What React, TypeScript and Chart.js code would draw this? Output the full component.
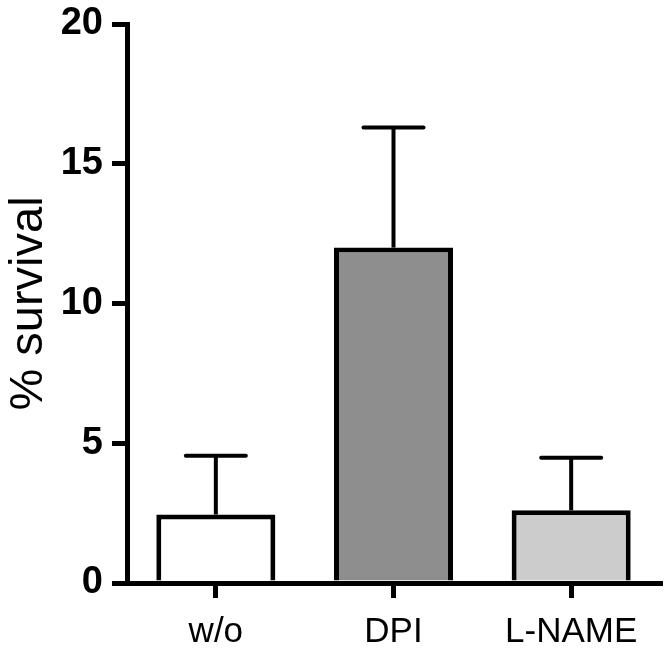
import React, { useEffect, useRef } from "react";
import { Chart, registerables } from "chart.js";

Chart.register(...registerables);

const categories = ["w/o", "DPI", "L-NAME"];
const means = [2.45, 12.0, 2.6];
const errors = [2.1, 4.3, 1.88];
const barColors = ["#ffffff", "#8e8e8e", "#cccccc"];
const yTicks = [0, 5, 10, 15, 20];
const yTitle = "% survival";

const FONT = "'Liberation Sans', Arial, Helvetica, sans-serif";

const errorBarPlugin = {
  id: "errorBars",
  afterDatasetsDraw(chart: any) {
    const meta = chart.getDatasetMeta(0);
    const yScale = chart.scales.y;
    const ctx = chart.ctx;
    ctx.save();
    ctx.strokeStyle = "#000";
    ctx.lineWidth = 4;
    meta.data.forEach((bar: any, i: number) => {
      const top = yScale.getPixelForValue(means[i] + errors[i]);
      const x = bar.x;
      ctx.lineCap = "butt";
      ctx.beginPath();
      ctx.moveTo(x, bar.y);
      ctx.lineTo(x, top);
      ctx.stroke();
      ctx.lineCap = "round";
      ctx.beginPath();
      ctx.moveTo(x - 30, top);
      ctx.lineTo(x + 30, top);
      ctx.stroke();
    });
    ctx.restore();
  },
};

export default function App() {
  const ref = useRef<HTMLCanvasElement | null>(null);
  useEffect(() => {
    if (!ref.current) return;
    const chart = new Chart(ref.current, {
      type: "bar",
      data: {
        labels: categories,
        datasets: [
          {
            data: means,
            backgroundColor: barColors,
            borderColor: "#000",
            borderWidth: 5,
            borderSkipped: "start",
            barPercentage: 0.67,
            categoryPercentage: 1,
          },
        ],
      },
      options: {
        responsive: false,
        animation: false,
        devicePixelRatio: 1,
        layout: { padding: { top: 24, right: 8, left: 0, bottom: 0 } },
        plugins: { legend: { display: false }, tooltip: { enabled: false } },
        scales: {
          x: {
            grid: {
              display: true,
              drawOnChartArea: false,
              drawTicks: true,
              tickLength: 15,
              offset: false,
              color: "#000",
              lineWidth: 5,
            },
            border: { display: true, color: "#000", width: 5 },
            ticks: {
              color: "#000",
              font: { family: FONT, size: 35 },
              padding: 13,
              maxRotation: 0,
            },
            afterFit: (s: any) => {
              s.height = 75;
            },
          },
          y: {
            min: 0,
            max: 20,
            afterBuildTicks: (s: any) => {
              s.ticks = yTicks.map((v) => ({ value: v }));
            },
            grid: {
              display: true,
              drawOnChartArea: false,
              drawTicks: true,
              tickLength: 15,
              color: "#000",
              lineWidth: 5,
            },
            border: { display: true, color: "#000", width: 5 },
            ticks: {
              color: "#000",
              font: { family: FONT, size: 38, weight: "bold", lineHeight: 0.5 },
              padding: 9,
            },
            title: {
              display: true,
              text: yTitle,
              color: "#000",
              font: { family: FONT, size: 47 },
              padding: { top: 1, bottom: 0 },
            },
            afterFit: (s: any) => {
              s.width = 127;
            },
          },
        },
      },
      plugins: [errorBarPlugin],
    } as any);
    return () => chart.destroy();
  }, []);
  return (
    <div style={{ position: "fixed", left: 0, top: 0, width: 668, height: 658, background: "#fff" }}>
      <canvas ref={ref} width={668} height={658} />
    </div>
  );
}
